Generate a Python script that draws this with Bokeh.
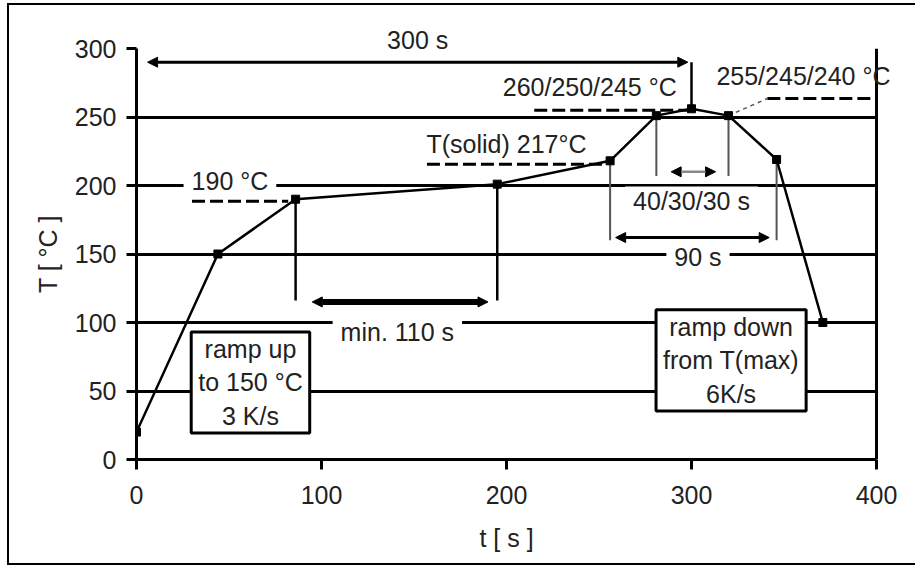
from bokeh.plotting import figure
from bokeh.models import Range1d, Label, Arrow, NormalHead, Span, FixedTicker, BoxAnnotation
from bokeh.embed import file_html
from bokeh.resources import INLINE

# ---- data ----
profile_t = [0, 44, 86, 195, 256, 281, 300, 320, 346, 371]
profile_T = [20, 150, 190, 201, 218, 251, 256, 251, 219, 100]

x_ticks = [0, 100, 200, 300, 400]
y_ticks = [0, 50, 100, 150, 200, 250, 300]

# drop lines (t, top, bottom)
drop_t = [86, 195]
drop_top = [190, 201]
drop_bot = [116, 116]

win_t = [281, 320]          # 40/30/30 s window
win_top = [251, 251]
win_bot = [207, 207]

span90_t = [256, 346]       # 90 s window
span90_top = [218, 219]
span90_bot = [160, 160]

peak_t = [300]              # 300 s marker line
peak_top = [290]
peak_bot = [256]

# dashed level marks (t0, t1, T)
lvl_t0 = [30, 157, 215, 341]
lvl_t1 = [82, 253, 300, 397]
lvl_T = [188.5, 215.5, 255, 263.5]

conn_t = [320, 341]
conn_T = [251, 263.5]

# arrows (t0, t1, T)
arr_300 = (6, 298, 290)
arr_110 = (95, 190, 115)
arr_40 = (289, 313, 210)
arr_90 = (259, 342, 162)

# labels (text, t, T, white background, panel)
labels = [
    ("300 s", 152, 306, True, "above"),
    ("190 °C", 50.5, 203.5, True, None),
    ("T(solid) 217°C", 200, 230.5, False, None),
    ("260/250/245 °C", 245, 272, False, None),
    ("40/30/30 s", 300, 189, True, None),
    ("90 s", 303.5, 148, True, None),
    ("min. 110 s", 141, 93, True, None),
]
boxes = [
    ("ramp up\nto 150 °C\n3 K/s", 61.6, 56.2),
    ("ramp down\nfrom T(max)\n6K/s", 321.4, 72.3),
]
late_labels = [("255/245/240 °C", 360.5, 280)]

x_title = ("t [ s ]", 200, -57.5)
y_title = "T [ °C ]"

FONT = "Liberation Sans"
FS = "25px"
TXT = "#222222"

# frame runs to the canvas edge (past t=400) so the right-hand label is not clipped
X_END = 400 * (917 - 136) / (876 - 136)

p = figure(width=908, height=562, x_range=Range1d(0, X_END), y_range=Range1d(0, 300),
           output_backend="svg", toolbar_location=None,
           min_border_left=127, min_border_right=0, min_border_top=43, min_border_bottom=108)
p.styles = {"margin-left": "7px", "margin-top": "3px",
            "border-left": "2px solid black", "border-top": "2px solid black",
            "border-bottom": "2px solid black"}
p.outline_line_color = None
p.background_fill_color = "white"
p.border_fill_color = "white"

p.xgrid.visible = False
p.ygrid.ticker = FixedTicker(ticks=y_ticks)
p.ygrid.grid_line_color = "black"
p.ygrid.grid_line_width = 3
# hide grid beyond t=400
p.add_layout(BoxAnnotation(left=400, right=X_END + 4, fill_color="white", fill_alpha=1,
                           line_color=None, level="underlay"))

p.xaxis.ticker = FixedTicker(ticks=x_ticks)
p.yaxis.ticker = FixedTicker(ticks=y_ticks)
p.xaxis.bounds = (0, 400)
for ax in (p.xaxis, p.yaxis):
    ax.axis_line_width = 3
    ax.axis_line_color = "black"
    ax.major_tick_line_width = 3
    ax.major_tick_line_color = "black"
    ax.major_tick_out = 10
    ax.major_tick_in = 0
    ax.minor_tick_line_color = None
    ax.major_label_text_font = FONT
    ax.major_label_text_font_size = FS
    ax.major_label_text_color = TXT
    ax.axis_label_text_font = FONT
    ax.axis_label_text_font_size = FS
    ax.axis_label_text_font_style = "normal"
    ax.axis_label_text_color = TXT
p.yaxis.axis_label = y_title
p.xaxis.major_label_standoff = 16
p.yaxis.major_label_standoff = 10
p.yaxis.axis_label_standoff = 10

# x-axis title, centred on the 0..400 axis
p.add_layout(Label(x=x_title[1], y=x_title[2], text=x_title[0], text_align="center",
                   text_baseline="middle", text_font=FONT, text_font_size=FS,
                   text_color=TXT), "below")

# guide lines
p.segment(drop_t, drop_top, drop_t, drop_bot, line_color="black", line_width=2.5)
p.segment(peak_t, peak_top, peak_t, peak_bot, line_color="black", line_width=2.5)
p.segment(win_t, win_top, win_t, win_bot, line_color="#555555", line_width=2)
p.segment(span90_t, span90_top, span90_t, span90_bot, line_color="#555555", line_width=2)

# dashed level marks
p.segment(lvl_t0, lvl_T, lvl_t1, lvl_T, line_color="black", line_width=3, line_dash="13 5")
p.line(conn_t, conn_T, line_color="#555555", line_width=1.5, line_dash="4 4")

# profile
p.line(profile_t, profile_T, line_color="black", line_width=2.5)
p.scatter(profile_t, profile_T, marker="square", size=8, color="black")

# labels
for text, t, T, bg, panel in labels:
    kw = dict(background_fill_color="white", padding=(8, 0)) if bg else {}
    lab = Label(x=t, y=T, text=text, text_align="center", text_baseline="middle",
                text_font=FONT, text_font_size=FS, text_color=TXT, **kw)
    if panel:
        p.add_layout(lab, panel)
    else:
        p.add_layout(lab)
for text, t, T in boxes:
    p.add_layout(Label(x=t, y=T, text=text, text_align="center", text_baseline="middle",
                       text_font=FONT, text_font_size=FS, text_color=TXT,
                       background_fill_color="white", border_line_color="black",
                       border_line_width=3, padding=(7, 3)))

# right frame border
p.add_layout(Span(location=400, dimension="height", line_color="black", line_width=3))

for text, t, T in late_labels:
    p.add_layout(Label(x=t, y=T, text=text, text_align="center", text_baseline="middle",
                       text_font=FONT, text_font_size=FS, text_color=TXT))

# arrows
def dbl_arrow(a, width, color="black"):
    t0, t1, T = a
    head = dict(size=10, fill_color="black", line_color="black", line_width=1)
    p.add_layout(Arrow(x_start=t0, y_start=T, x_end=t1, y_end=T,
                       start=NormalHead(**head), end=NormalHead(**head),
                       line_color=color, line_width=width))

dbl_arrow(arr_300, 3)
dbl_arrow(arr_110, 6)
dbl_arrow(arr_40, 2.5, "#888888")
dbl_arrow(arr_90, 3)

open("out.html", "w").write(file_html(p, INLINE))
